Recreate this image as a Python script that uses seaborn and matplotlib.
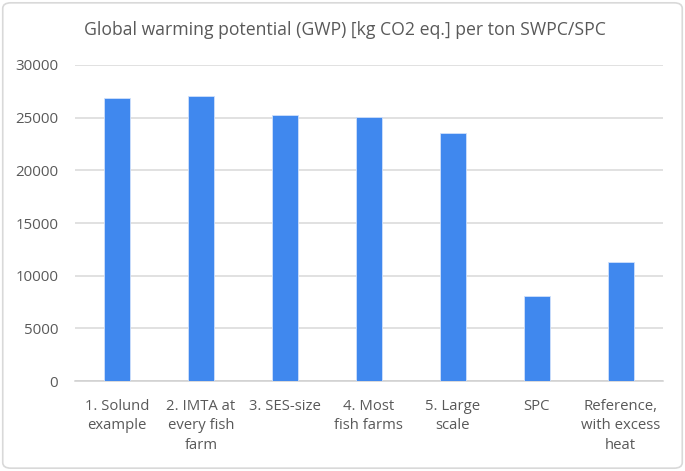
import matplotlib

matplotlib.use("Agg")

import matplotlib.pyplot as plt
import pandas as pd
import seaborn as sns
from matplotlib.patches import FancyBboxPatch

categories = [
    "1. Solund\nexample",
    "2. IMTA at\nevery fish\nfarm",
    "3. SES-size",
    "4. Most\nfish farms",
    "5. Large\nscale",
    "SPC",
    "Reference,\nwith excess\nheat",
]
gwp_values = [26900, 27030, 25260, 25100, 23580, 8070, 11330]
y_ticks = [0, 5000, 10000, 15000, 20000, 25000, 30000]

df = pd.DataFrame({"scenario": categories, "gwp": gwp_values})

sns.set_theme(style="white")
plt.rcParams["font.family"] = ["Open Sans", "DejaVu Sans"]

text_color = "#595959"
fig = plt.figure(figsize=(6.85, 4.71), dpi=100)
ax = fig.add_axes([0.1095, 0.191, 0.858, 0.671])

sns.barplot(data=df, x="scenario", y="gwp", color="#4088EE", width=0.31,
            saturation=1, edgecolor="#cfe0fb", linewidth=0.6, ax=ax, zorder=3)

ax.set_ylim(0, 30000)
ax.set_yticks(y_ticks)
ax.set_yticklabels([str(v) for v in y_ticks])
ax.set_xlim(-0.5, len(categories) - 0.5)
ax.yaxis.grid(True, color="#d9d9d9", linewidth=1.1, zorder=0)
ax.set_xlabel("")
ax.set_ylabel("")
for side in ["top", "right", "left"]:
    ax.spines[side].set_visible(False)
ax.spines["bottom"].set_color("#d0d0d0")
ax.spines["bottom"].set_linewidth(1.1)
ax.tick_params(axis="both", length=0, colors=text_color)
ax.tick_params(axis="x", pad=13, labelsize=10.7)
ax.tick_params(axis="y", pad=12, labelsize=10.8)
for lbl in ax.get_xticklabels():
    lbl.set_linespacing(1.4)
    lbl.set_va("top")

fig.text(0.503, 0.936, "Global warming potential (GWP) [kg CO2 eq.] per ton SWPC/SPC",
         ha="center", va="center", fontsize=12.7, color=text_color)

border = FancyBboxPatch((0.004, 0.006), 0.992, 0.988, boxstyle="round,pad=0,rounding_size=0.012",
                        transform=fig.transFigure, fill=False, edgecolor="#d9d9d9", linewidth=1.2)
fig.patches.append(border)

fig.savefig("out.png", dpi=100)
